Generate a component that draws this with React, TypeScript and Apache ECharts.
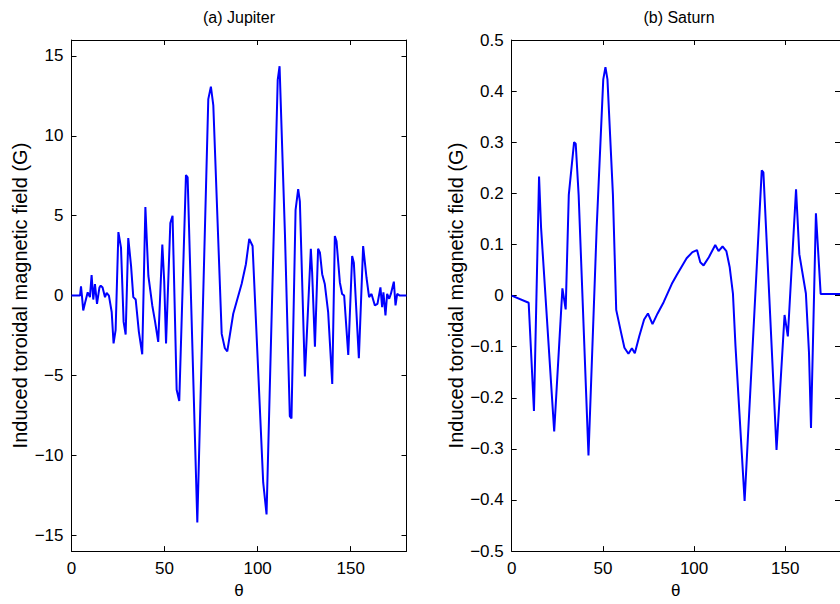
import React, { useEffect, useRef } from "react";
import * as echarts from "echarts";

// Jupiter: colatitude theta (deg) and induced toroidal field (G)
const J_THETA = [
  0, 4.6, 5.1, 5.6, 6.3, 7.5, 8.7, 9.9, 10.8, 11.7, 12.6, 13.7, 15.0, 15.7, 16.7, 18.0, 18.9, 20.1,
  21.6, 22.6, 23.7, 25.2, 26.6, 28.0, 29.1, 30.5, 32.0, 33.2, 34.5, 36.2, 38.0, 39.7, 41.3, 43.4,
  44.8, 46.6, 48.8, 49.8, 50.8, 53.1, 54.3, 56.5, 57.9, 61.5, 62.4, 67.6, 73.5, 74.9, 76.2, 80.7,
  82.4, 83.7, 86.9, 91.4, 93.7, 95.5, 97.3, 103.0, 104.8, 110.8, 111.8, 114.7, 117.3, 118.2, 120.4,
  121.8, 122.7, 125.4, 128.6, 129.3, 130.8, 132.5, 133.5, 134.7, 136.1, 137.9, 140.1, 141.5, 142.4,
  144.2, 145.4, 146.5, 148.7, 150.8, 151.7, 154.4, 156.7, 158.5, 159.9, 161.2, 163.0, 164.4, 166.0,
  166.9, 167.6, 168.7, 169.6, 170.7, 171.6, 173.2, 174.1, 175.0, 176.4, 180,
];
const J_FIELD = [
  0, 0, 0.58, 0.0, -0.93, -0.35, 0.2, -0.1, 1.28, -0.25, 0.72, -0.52, 0.5, 0.62, 0.5, -0.1, 0.16, 0.0,
  -1.03, -3.0, -2.17, 3.97, 3.0, -1.65, -2.44, 3.6, 1.86, -0.1, -0.25, -2.27, -3.68, 5.54, 1.24, -0.62,
  -1.55, -2.9, 3.2, 0.93, -3.0, 4.54, 5.0, -5.9, -6.6, 7.54, 7.4, -14.2, 12.3, 13.08, 11.9, -2.4,
  -3.3, -3.5, -1.14, 0.72, 1.96, 3.55, 3.1, -11.7, -13.7, 13.5, 14.36, 3.8, -7.55, -7.7, 5.37,
  6.67, 5.9, -5.07, 2.93, 1.44, -3.2, 2.93, 2.68, 1.34, 0.72, -1.04, -5.54, 3.72, 3.4,
  0.82, 0.1, 0.0, -3.72, 2.48, 2.06, -3.93, 3.1, 1.13, -0.1, 0.1, -0.62, -0.52, 0.51,
  -0.72, 0.2, -1.24, 0.1, -0.2, 0.1, 0.87, -0.62, 0.1, 0, 0,
];

// Saturn
const S_THETA = [
  0, 9.3, 12.2, 15.0, 16.1, 23.3, 27.8, 29.6, 31.3, 34.2, 35.1, 36.7, 42.1, 46.6, 50.2, 51.4, 52.5,
  55.5, 57.3, 60.0, 61.8, 64.0, 65.9, 67.5, 69.9, 72.6, 74.7, 77.2, 80.0, 83.3, 87.8, 90.5, 95.9,
  99.1, 101.6, 103.4, 105.2, 108.1, 111.6, 113.4, 115.6, 117.7, 119.5, 121.3, 122.7, 127.7, 137.1,
  138.0, 145.2, 149.6, 151.4, 155.9, 157.7, 161.3, 163.0, 164.1, 166.8, 169.4, 180,
];
const S_FIELD = [
  0, -0.014, -0.226, 0.233, 0.133, -0.266, 0.014, -0.027, 0.197, 0.30, 0.297, 0.197, -0.313, 0.133, 0.423, 0.447, 0.423,
  0.197, -0.028, -0.073, -0.102, -0.114, -0.103, -0.113, -0.08, -0.047, -0.035, -0.056, -0.035, -0.013, 0.023, 0.04, 0.073,
  0.085, 0.089, 0.065, 0.059, 0.075, 0.099, 0.087, 0.096, 0.087, 0.056, 0.004, -0.099, -0.402, 0.245,
  0.241, -0.302, -0.038, -0.08, 0.208, 0.081, 0.004, -0.112, -0.259, 0.161, 0.003, 0.003,
];

const X_TICKS = [0, 50, 100, 150];
const J_TICKS = [-15, -10, -5, 0, 5, 10, 15];
const S_TICKS = [-0.5, -0.4, -0.3, -0.2, -0.1, 0, 0.1, 0.2, 0.3, 0.4, 0.5];
const TITLES = ["(a) Jupiter", "(b) Saturn"];
const Y_NAME = "Induced toroidal magnetic field (G)";
const X_NAME = "θ";

const FONT = "'Liberation Sans', Arial, Helvetica, sans-serif";
const fmt = (v: number) => String(v).replace("-", "\u2212");

export default function App() {
  const ref = useRef<HTMLDivElement>(null);
  useEffect(() => {
    document.body.style.margin = "0";
    const chart = echarts.init(ref.current!, null, { renderer: "svg" });
    const grids = [
      { left: 71.5, top: 40, width: 335, height: 518 },
      { left: 511.7, top: 40, width: 335, height: 518 },
    ];
    const lineStyle = { color: "#000", width: 1 };
    const tickStyle = { color: "#000", width: 1 };
    const xAxis: any[] = [];
    const yAxis: any[] = [];
    [0, 1].forEach((g) => {
      xAxis.push({
        type: "value", gridIndex: g, position: "bottom", min: 0, max: 180,
        axisLine: { show: true, onZero: false, lineStyle },
        axisTick: { show: true, inside: true, length: 5, lineStyle: tickStyle, customValues: X_TICKS },
        axisLabel: { show: true, customValues: X_TICKS, color: "#000", fontSize: 17, fontFamily: FONT, margin: 9, formatter: fmt },
        splitLine: { show: false },
        name: X_NAME, nameLocation: "middle", nameGap: 27,
        nameTextStyle: { color: "#000", fontSize: 17, fontFamily: FONT },
      });
      xAxis.push({
        type: "value", gridIndex: g, position: "top", min: 0, max: 180,
        axisLine: { show: true, onZero: false, lineStyle },
        axisTick: { show: true, inside: true, length: 5, lineStyle: tickStyle, customValues: X_TICKS },
        axisLabel: { show: false },
        splitLine: { show: false },
      });
      const ticks = g === 0 ? J_TICKS : S_TICKS;
      const min = g === 0 ? -16 : -0.5;
      const max = g === 0 ? 16 : 0.5;
      yAxis.push({
        type: "value", gridIndex: g, position: "left", min, max,
        axisLine: { show: true, onZero: false, lineStyle },
        axisTick: { show: true, inside: true, length: 5, lineStyle: tickStyle, customValues: ticks },
        axisLabel: { show: true, customValues: ticks, color: "#000", fontSize: 17, fontFamily: FONT, margin: 8, formatter: fmt },
        splitLine: { show: false },
        name: Y_NAME, nameLocation: "middle", nameGap: 42,
        nameTextStyle: { color: "#000", fontSize: 20, fontFamily: FONT },
      });
      yAxis.push({
        type: "value", gridIndex: g, position: "right", min, max,
        axisLine: { show: true, onZero: false, lineStyle },
        axisTick: { show: true, inside: true, length: 5, lineStyle: tickStyle, customValues: ticks },
        axisLabel: { show: false },
        splitLine: { show: false },
      });
    });
    chart.setOption({
      animation: false,
      backgroundColor: "#fff",
      title: [
        { text: TITLES[0], left: 239, top: 9, textAlign: "center", padding: 0,
          textStyle: { color: "#000", fontSize: 16, fontWeight: "normal", fontFamily: FONT } },
        { text: TITLES[1], left: 679, top: 9, textAlign: "center", padding: 0,
          textStyle: { color: "#000", fontSize: 16, fontWeight: "normal", fontFamily: FONT } },
      ],
      grid: grids,
      xAxis,
      yAxis,
      series: [
        {
          type: "line", xAxisIndex: 0, yAxisIndex: 0, showSymbol: false, symbol: "none",
          data: J_THETA.map((t, i) => [t, J_FIELD[i]]),
          lineStyle: { color: "#0000ff", width: 2 }, clip: true,
        },
        {
          type: "line", xAxisIndex: 2, yAxisIndex: 2, showSymbol: false, symbol: "none",
          data: S_THETA.map((t, i) => [t, S_FIELD[i]]),
          lineStyle: { color: "#0000ff", width: 2 }, clip: true,
        },
      ],
    });
    return () => chart.dispose();
  }, []);
  return <div ref={ref} style={{ position: "fixed", left: 0, top: 0, width: 840, height: 604 }} />;
}
